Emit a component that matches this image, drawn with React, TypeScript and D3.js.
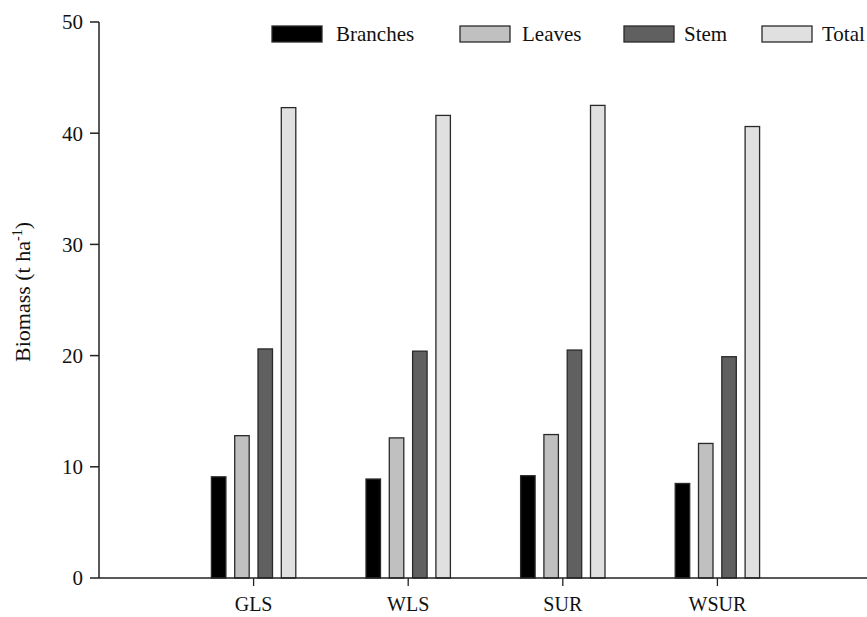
import React from "react";
import * as d3 from "d3";

const categories = ["GLS", "WLS", "SUR", "WSUR"];
const seriesNames = ["Branches", "Leaves", "Stem", "Total"];
const branches = [9.1, 8.9, 9.2, 8.5];
const leaves = [12.8, 12.6, 12.9, 12.1];
const stem = [20.6, 20.4, 20.5, 19.9];
const total = [42.3, 41.6, 42.5, 40.6];
const yTicks = [0, 10, 20, 30, 40, 50];

const seriesValues = [branches, leaves, stem, total];
const fills = ["#000000", "#c0c0c0", "#606060", "#e0e0e0"];

const W = 867;
const H = 617;
const FONT = "'Liberation Serif', 'Times New Roman', serif";

export default function App() {
  const y = d3.scaleLinear().domain([0, 50]).range([578, 22]);
  const x = d3.scaleLinear().domain([0, 5]).range([99, 872]);
  const inner = d3
    .scaleBand<string>()
    .domain(seriesNames)
    .range([-46.6, 46.6])
    .paddingInner(0.378)
    .paddingOuter(0.189);

  const legendBoxX = [272, 460, 624, 762];
  const legendTextX = [336, 522, 684, 822];

  return (
    <svg
      width={W}
      height={H}
      style={{ position: "absolute", left: 0, top: 0, background: "#fff" }}
      fontFamily={FONT}
    >
      {/* bars */}
      {categories.map((c, ci) =>
        seriesNames.map((s, si) => {
          const cx = x(ci + 1);
          const v = seriesValues[si][ci];
          return (
            <rect
              key={c + s}
              x={cx + (inner(s) as number)}
              y={y(v)}
              width={inner.bandwidth()}
              height={y(0) - y(v)}
              fill={fills[si]}
              stroke="#2a2a2a"
              strokeWidth={1.3}
            />
          );
        })
      )}
      {/* axes */}
      <line x1={99} x2={99} y1={y(50)} y2={y(0)} stroke="#222" strokeWidth={1.5} />
      <line x1={99} x2={W} y1={y(0)} y2={y(0)} stroke="#222" strokeWidth={1.5} />
      {yTicks.map((t) => (
        <g key={t}>
          <line x1={90} x2={99} y1={y(t)} y2={y(t)} stroke="#222" strokeWidth={1.5} />
          <text
            x={83}
            y={y(t)}
            dy="0.35em"
            textAnchor="end"
            fontSize={21}
            fill="#111"
          >
            {t}
          </text>
        </g>
      ))}
      {categories.map((c, ci) => (
        <g key={c}>
          <line x1={x(ci + 1)} x2={x(ci + 1)} y1={y(0)} y2={y(0) + 8} stroke="#222" strokeWidth={1.3} />
          <text x={x(ci + 1)} y={611} textAnchor="middle" fontSize={20} fill="#111">
            {c}
          </text>
        </g>
      ))}
      {/* y title */}
      <text
        transform="translate(30,292) rotate(-90)"
        textAnchor="middle"
        fontSize={22}
        fill="#111"
      >
        Biomass (t ha
        <tspan fontSize={14} dy={-8}>-1</tspan>
        <tspan dy={8}>)</tspan>
      </text>
      {/* legend */}
      {seriesNames.map((s, si) => (
        <g key={s}>
          <rect
            x={legendBoxX[si]}
            y={26}
            width={50}
            height={16}
            fill={fills[si]}
            stroke="#2a2a2a"
            strokeWidth={1.3}
          />
          <text x={legendTextX[si]} y={41} fontSize={21} fill="#111">
            {s}
          </text>
        </g>
      ))}
    </svg>
  );
}
